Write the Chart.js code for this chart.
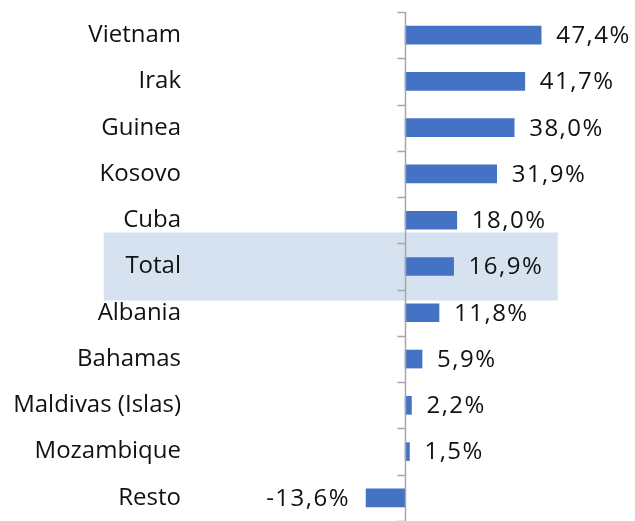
<!DOCTYPE html>
<html lang="es">
<head>
<meta charset="UTF-8">
<title>Variación por país</title>
<script src="https://cdn.jsdelivr.net/npm/chart.js"></script>
<style>
  html, body { margin: 0; padding: 0; background: #fff; overflow: hidden; }
  #wrap { position: relative; width: 635px; height: 521px; }
</style>
</head>
<body>
<div id="wrap"><canvas id="chart"></canvas></div>
<script>
const countries = ['Vietnam', 'Irak', 'Guinea', 'Kosovo', 'Cuba', 'Total', 'Albania', 'Bahamas', 'Maldivas (Islas)', 'Mozambique', 'Resto'];
const changes = [47.4, 41.7, 38.0, 31.9, 18.0, 16.9, 11.8, 5.9, 2.2, 1.5, -13.6];
const highlighted = 'Total';

const font = "'Open Sans', 'Noto Sans', sans-serif";
const fmt = v => v.toFixed(1).replace('.', ',') + '%';

// light band behind the highlighted row (drawn before the axis labels)
const bandPlugin = {
  id: 'band',
  beforeDraw(chart) {
    const { ctx, scales: { x, y } } = chart;
    const i = countries.indexOf(highlighted);
    const yc = y.getPixelForValue(i);
    const half = 34;
    ctx.save();
    ctx.fillStyle = '#D6E2EF';
    const left = x.getPixelForValue(-105);
    const right = x.getPixelForValue(53.2);
    ctx.fillRect(left, yc - half, right - left, half * 2);
    ctx.restore();
  }
};

// vertical axis at zero with tick marks between categories
const zeroAxisPlugin = {
  id: 'zeroAxis',
  afterDatasetsDraw(chart) {
    const { ctx, chartArea, scales: { x, y } } = chart;
    const x0 = Math.round(x.getPixelForValue(0)) + 0.5;
    ctx.save();
    ctx.strokeStyle = '#A6A6A6';
    ctx.lineWidth = 1.5;
    ctx.beginPath();
    ctx.moveTo(x0, chartArea.top);
    ctx.lineTo(x0, chartArea.bottom);
    const step = y.getPixelForValue(1) - y.getPixelForValue(0);
    for (let i = 0; i <= countries.length; i++) {
      const yy = Math.round(y.getPixelForValue(i) - step / 2) + 0.5;
      ctx.moveTo(x0 - 8, yy);
      ctx.lineTo(x0, yy);
    }
    ctx.stroke();
    ctx.restore();
  }
};

// value labels at bar ends
const valueLabels = {
  id: 'valueLabels',
  afterDatasetsDraw(chart) {
    const { ctx } = chart;
    const meta = chart.getDatasetMeta(0);
    ctx.save();
    ctx.font = '24px ' + font;
    ctx.letterSpacing = '1.5px';
    ctx.fillStyle = '#111';
    ctx.textBaseline = 'middle';
    meta.data.forEach((bar, i) => {
      const v = changes[i];
      if (v >= 0) {
        ctx.textAlign = 'left';
        ctx.fillText(fmt(v), bar.x + 15, bar.y + 1);
      } else {
        ctx.textAlign = 'right';
        ctx.fillText(fmt(v), bar.x - 16, bar.y + 1);
      }
    });
    ctx.restore();
  }
};

new Chart(document.getElementById('chart'), {
  type: 'bar',
  data: {
    labels: countries,
    datasets: [{
      data: changes,
      backgroundColor: '#4472C4',
      borderWidth: 0,
      barThickness: 18
    }]
  },
  options: {
    indexAxis: 'y',
    responsive: true,
    maintainAspectRatio: false,
    animation: false,
    layout: { padding: { top: 12, bottom: 0, left: 0, right: 0 } },
    plugins: {
      legend: { display: false },
      tooltip: { enabled: false }
    },
    scales: {
      x: {
        min: -76.7,
        max: 80.1,
        display: false
      },
      y: {
        grid: { display: false, drawTicks: false },
        border: { display: false },
        afterFit(scale) {
          scale.width = 185;
          scale.paddingTop = 0;
          scale.paddingBottom = 0;
        },
        ticks: {
          padding: 4,
          color: '#111',
          font: { family: font, size: 24 }
        }
      }
    }
  },
  plugins: [bandPlugin, zeroAxisPlugin, valueLabels]
});
</script>
</body>
</html>
